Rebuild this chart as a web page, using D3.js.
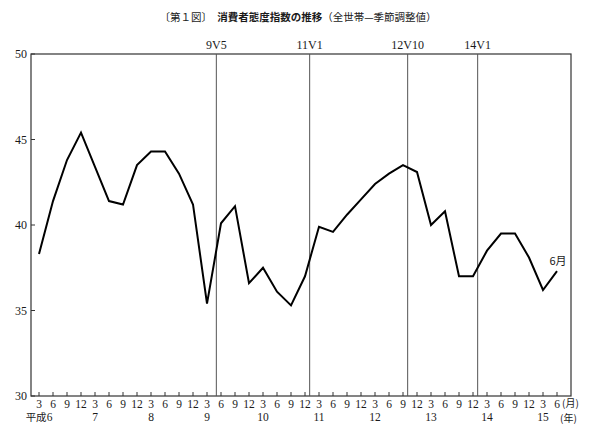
<!DOCTYPE html>
<html><head><meta charset="utf-8">
<script src="https://cdn.jsdelivr.net/npm/d3@7"></script>
<style>
body{margin:0;background:#fff;}
text{font-family:"Liberation Serif","DejaVu Serif","Noto Sans CJK JP",serif;fill:#1a1a1a;}
.jp{font-family:"Noto Sans CJK JP",sans-serif;}
</style></head>
<body><svg id="c" width="596" height="438"></svg>
<script>
// Data: consumer confidence index, quarterly (Mar, Jun, Sep, Dec), H6-3 .. H15-6
const monthLabels = [3,6,9,12, 3,6,9,12, 3,6,9,12, 3,6,9,12, 3,6,9,12, 3,6,9,12, 3,6,9,12, 3,6,9,12, 3,6,9,12, 3,6];
const yearLabels = [{i:0,t:"平成6"},{i:4,t:"7"},{i:8,t:"8"},{i:12,t:"9"},{i:16,t:"10"},{i:20,t:"11"},{i:24,t:"12"},{i:28,t:"13"},{i:32,t:"14"},{i:36,t:"15"}];
const values = [38.3,41.4,43.8,45.4, 43.4,41.4,41.2,43.5, 44.3,44.3,43.0,41.2,
                35.4,40.1,41.1,36.6, 37.5,36.1,35.3,37.0, 39.9,39.6,40.6,41.5,
                42.4,43.0,43.5,43.1, 40.0,40.8,37.0,37.0, 38.5,39.5,39.5,38.1,
                36.2,37.3];
const yTicks = [30,35,40,45,50];
// Business cycle turning points (Heisei year, month)
const refLines = [{label:"9V5",y:9,m:5},{label:"11V1",y:11,m:1},{label:"12V10",y:12,m:10},{label:"14V1",y:14,m:1}];

const svg = d3.select("#c");
const L=31, R=571, T=54, B=396;
const x = d3.scaleLinear().domain([0, values.length-1]).range([39, 557]);
const y = d3.scaleLinear().domain([30,50]).range([B, T]);
const idxOf = (yr,m) => (yr-6)*4 + (m-3)/3;

// Title
const title = svg.append("text").attr("x",298).attr("y",21).attr("text-anchor","middle").attr("font-size",10.5).attr("class","jp");
title.append("tspan").attr("font-weight",400).text("〔第１図〕　");
title.append("tspan").attr("font-weight",700).text("消費者態度指数の推移");
title.append("tspan").attr("font-weight",400).text("（全世帯—季節調整値）");

// Frame
svg.append("rect").attr("x",L).attr("y",T).attr("width",R-L).attr("height",B-T)
  .attr("fill","none").attr("stroke","#333").attr("stroke-width",1.2);

// Y axis
yTicks.forEach(v=>{
  svg.append("line").attr("x1",L).attr("x2",L+4).attr("y1",y(v)).attr("y2",y(v)).attr("stroke","#333");
  svg.append("text").attr("x",L-4).attr("y",y(v)+4).attr("text-anchor","end").attr("font-size",12).text(v);
});

// X ticks & labels
monthLabels.forEach((m,i)=>{
  svg.append("line").attr("x1",x(i)).attr("x2",x(i)).attr("y1",B).attr("y2",B-4).attr("stroke","#333");
  svg.append("text").attr("x",x(i)).attr("y",408).attr("text-anchor","middle").attr("font-size",11.5).text(m);
});
svg.append("text").attr("x",562).attr("y",407).attr("font-size",10).attr("class","jp").text("(月)");
yearLabels.forEach(d=>{
  const t = svg.append("text").attr("x",x(d.i)).attr("y",421).attr("text-anchor","middle").attr("font-size",11.5);
  if (d.t.startsWith("平成")) {
    t.append("tspan").attr("font-size",10.5).text("平成");
    t.append("tspan").text(d.t.slice(2));
  } else t.text(d.t);
});
svg.append("text").attr("x",560).attr("y",422).attr("font-size",10).attr("class","jp").text("(年)");

// Reference lines
refLines.forEach(r=>{
  const xx = x(idxOf(r.y,r.m));
  svg.append("line").attr("x1",xx).attr("x2",xx).attr("y1",T).attr("y2",B).attr("stroke","#555").attr("stroke-width",1);
  svg.append("text").attr("x",xx).attr("y",49).attr("text-anchor","middle").attr("font-size",12).text(r.label);
});

// Line
svg.append("path").datum(values)
  .attr("d", d3.line().x((d,i)=>x(i)).y(d=>y(d)))
  .attr("fill","none").attr("stroke","#000").attr("stroke-width",2).attr("stroke-linejoin","miter");

svg.append("text").attr("x",x(values.length-1)+1).attr("y",y(values[values.length-1])-6)
  .attr("text-anchor","middle").attr("font-size",11).attr("class","jp").text("6月");
</script></body></html>
